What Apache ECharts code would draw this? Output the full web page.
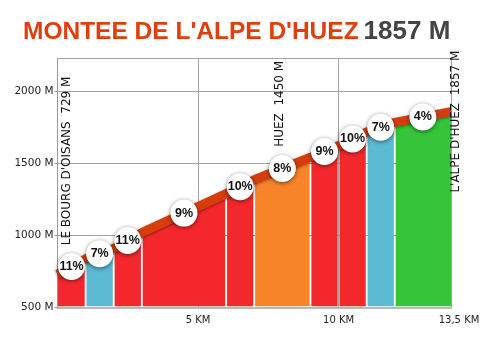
<!DOCTYPE html>
<html>
<head>
<meta charset="utf-8">
<script src="https://cdn.jsdelivr.net/npm/echarts@6/dist/echarts.min.js"></script>
<style>
  html, body { margin: 0; padding: 0; background: #fff; }
  #chart { width: 500px; height: 346px; }
</style>
</head>
<body>
<div id="chart"></div>
<script>
// Climb profile: distance (km) and altitude (m) at each segment break
const distKm    = [0, 1, 2, 3, 6, 7, 9, 10, 11, 12, 14];
const altitudeM = [729, 836, 908, 1018, 1288, 1385, 1540, 1620, 1715, 1782, 1857];
// Average gradient of each segment (%)
const gradePct  = [11, 7, 11, 9, 10, 8, 9, 10, 7, 4];

// Named places along the climb
const placeNames = ["LE BOURG D'OISANS", "HUEZ", "L'ALPE D'HUEZ"];
const placeKm    = [0, 7.9, 14];
const placeAlt   = [729, 1450, 1857];

// Axis ticks
const xTickValues = [5, 10, 14];
const xTickLabels = ['5 KM', '10 KM', '13,5 KM'];
const yTickValues = [500, 1000, 1500, 2000];

const titleText = "MONTEE DE L'ALPE D'HUEZ";

function gradeColor(g) {
  if (g >= 9) return '#f4282c';
  if (g === 8) return '#f7832b';
  if (g === 7) return '#5dbad3';
  return '#36c43b';
}

const segments = gradePct.map((g, i) => [distKm[i], distKm[i + 1], altitudeM[i], altitudeM[i + 1], g]);
const profile = distKm.map((d, i) => [d, altitudeM[i]]);
const pins = segments.map(s => ({ value: [(s[0] + s[1]) / 2, (s[2] + s[3]) / 2], grade: s[4] }));
const placeData = placeNames.map((n, i) => [placeKm[i], placeAlt[i], i]);
// pixel nudges for the vertical place captions
const placeNudge = [[9, -29], [0, -23.5], [5, 81]];

const chart = echarts.init(document.getElementById('chart'), null, { renderer: 'canvas' });

chart.setOption({
  animation: false,
  backgroundColor: '#fff',
  title: {
    text: '{a|' + titleText + '} {b|' + altitudeM[altitudeM.length - 1] + ' M}',
    left: 18,
    top: 12,
    textStyle: {
      rich: {
        a: { fontFamily: 'Liberation Sans', fontWeight: 'bold', fontSize: 24.5, color: '#e03e0c', lineHeight: 30 },
        b: { fontFamily: 'Liberation Sans', fontWeight: 'bold', fontSize: 26, color: '#444444', lineHeight: 30 }
      }
    }
  },
  grid: { left: 57.5, right: 49, top: 58.5, bottom: 38.7 },
  xAxis: {
    type: 'value',
    min: 0,
    max: 14,
    interval: 5,
    axisLine: { show: true, onZero: false, lineStyle: { color: '#b8b8b8', width: 2 } },
    axisTick: { show: false },
    splitLine: { show: true, lineStyle: { color: '#a4a4a4', width: 1 } },
    axisLabel: {
      showMinLabel: false,
      fontFamily: 'DejaVu Sans',
      fontSize: 10,
      color: '#222',
      margin: 8,
      formatter: function (v) {
        const i = xTickValues.indexOf(v);
        if (i < 0) return '';
        return i === xTickValues.length - 1 ? '{e|' + xTickLabels[i] + '}' : xTickLabels[i];
      },
      rich: { e: { padding: [0, 0, 0, 16], fontFamily: 'DejaVu Sans', fontSize: 10, color: '#222' } }
    }
  },
  yAxis: {
    type: 'value',
    min: 500,
    max: 2225,
    interval: 500,
    axisLine: { show: true, lineStyle: { color: '#9a9a9a', width: 1 } },
    axisTick: { show: true, length: 3, lineStyle: { color: '#9a9a9a' } },
    splitLine: { show: true, lineStyle: { color: '#a4a4a4', width: 1 } },
    axisLabel: {
      showMaxLabel: false,
      fontFamily: 'DejaVu Sans',
      fontSize: 10.5,
      color: '#222',
      margin: 4,
      formatter: function (v) { return yTickValues.indexOf(v) >= 0 ? v + ' M' : ''; }
    }
  },
  series: [
    {
      // coloured gradient blocks under the profile
      type: 'custom',
      z: 2,
      data: segments,
      renderItem: function (params, api) {
        const x0 = api.value(0), x1 = api.value(1), e0 = api.value(2), e1 = api.value(3);
        const g = api.value(4);
        const b0 = api.coord([x0, 500]), t0 = api.coord([x0, e0]);
        const b1 = api.coord([x1, 500]), t1 = api.coord([x1, e1]);
        const gap = params.dataIndex === 0 ? 0.5 : 0.9;
        const gapR = params.dataIndex === segments.length - 1 ? 0 : 0.9;
        const yb = b0[1] - 1;
        return {
          type: 'polygon',
          shape: { points: [[b0[0] + gap, yb], [t0[0] + gap, t0[1]], [t1[0] - gapR, t1[1]], [b1[0] - gapR, yb]] },
          style: { fill: gradeColor(g) }
        };
      }
    },
    {
      // road profile
      type: 'line',
      z: 3,
      data: profile,
      symbol: 'none',
      lineStyle: {
        width: 9,
        color: '#d63d0d',
        shadowColor: 'rgba(0,0,0,0.4)',
        shadowBlur: 3,
        shadowOffsetY: 1
      }
    },
    {
      // gradient badges
      type: 'scatter',
      z: 4,
      data: pins,
      symbol: 'circle',
      symbolSize: 27,
      itemStyle: {
        color: '#ffffff',
        opacity: 1,
        shadowColor: 'rgba(0,0,0,0.55)',
        shadowBlur: 4,
        shadowOffsetY: 1
      },
      label: {
        show: true,
        position: 'inside',
        formatter: function (p) { return p.data.grade + '%'; },
        fontFamily: 'Liberation Sans',
        fontWeight: 'bold',
        fontSize: 12.5,
        color: '#111',
        opacity: 1
      }
    },
    {
      // vertical place captions
      type: 'custom',
      z: 5,
      data: placeData,
      clip: false,
      renderItem: function (params, api) {
        const i = api.value(2);
        const p = api.coord([api.value(0), api.value(1)]);
        const n = placeNudge[i];
        return {
          type: 'text',
          x: p[0] + n[0],
          y: p[1] + n[1],
          rotation: Math.PI / 2,
          style: {
            text: placeNames[i] + '  ' + placeAlt[i] + ' M',
            fill: '#111',
            font: '12px "DejaVu Sans"',
            align: 'left',
            verticalAlign: 'middle'
          }
        };
      }
    }
  ]
});
</script>
</body>
</html>
